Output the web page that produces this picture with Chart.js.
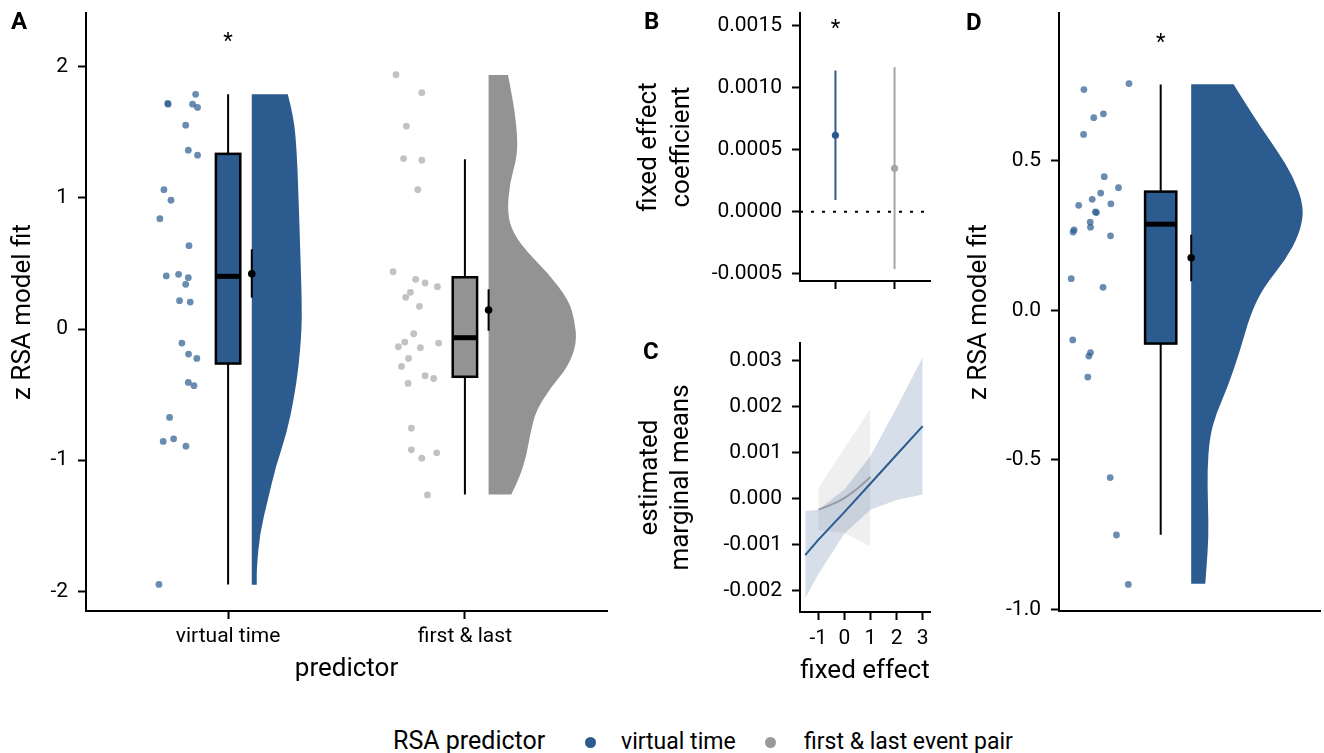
<!doctype html>
<html lang="en">
<head>
<meta charset="utf-8">
<title>RSA model fit – raincloud + mixed model</title>
<script src="https://cdn.jsdelivr.net/npm/chart.js@4.4.1/dist/chart.umd.min.js"></script>
<style>
 body{margin:0;background:#fff;font-family:Roboto,sans-serif}
 #fig{position:relative;width:1324px;height:753px;overflow:hidden;background:#fff}
 #fig canvas{position:absolute}
 .lbl{position:absolute;font-weight:bold;font-size:24px;line-height:24px;color:#000}
 .leg{position:absolute;white-space:nowrap;color:#000}
 .dot{position:absolute;width:11px;height:11px;border-radius:50%}
</style>
</head>
<body>
<div id="fig">
 <canvas id="cA" width="620" height="700" style="left:0;top:0"></canvas>
 <canvas id="cB" width="340" height="300" style="left:620px;top:0"></canvas>
 <canvas id="cC" width="340" height="400" style="left:620px;top:300px"></canvas>
 <canvas id="cD" width="364" height="700" style="left:960px;top:0"></canvas>

 <div class="lbl" style="left:11px;top:9px">A</div>
 <div class="lbl" style="left:644px;top:9px">B</div>
 <div class="lbl" style="left:643px;top:339px">C</div>
 <div class="lbl" style="left:966px;top:10px">D</div>

 <!-- gemeinsame Legende -->
 <div class="leg" style="left:393px;top:728px;font-size:25px;line-height:25px">RSA predictor</div>
 <div class="dot" style="left:585px;top:737px;background:#2b5b8f"></div>
 <div class="leg" style="left:621px;top:730px;font-size:23px;line-height:23px">virtual time</div>
 <div class="dot" style="left:765px;top:737px;background:#999"></div>
 <div class="leg" style="left:804px;top:730px;font-size:23px;line-height:23px">first &amp; last event pair</div>
</div>

<script>
/* ===== Daten ======================================================== */
// Panel A – z RSA model fit je Prädiktor
const aCategories = ['virtual time', 'first & last'];
const aTicks = [-2, -1, 0, 1, 2];
const vtJitter = [0.863,0.747,0.745,0.850,0.871,0.821,0.832,0.871,0.729,0.759,0.712,0.835,0.739,0.791,
                  0.832,0.821,0.795,0.840,0.805,0.833,0.868,0.832,0.856,0.753,0.726,0.770,0.822,0.708];
const vtFit    = [1.79,1.715,1.72,1.715,1.69,1.555,1.364,1.326,1.063,0.982,0.842,0.636,0.405,0.417,
                  0.392,0.341,0.216,0.206,-0.107,-0.191,-0.224,-0.407,-0.432,-0.674,-0.857,-0.837,-0.893,-1.947];
const flJitter = [1.709,1.818,1.753,1.741,1.818,1.801,1.697,1.792,1.832,1.884,1.770,1.750,1.808,1.784,
                  1.746,1.719,1.812,1.889,1.762,1.732,1.832,1.868,1.760,1.774,1.774,1.818,1.881,1.842];
const flFit    = [1.939,1.802,1.547,1.300,1.288,1.063,0.437,0.379,0.351,0.323,0.280,0.242,0.173,-0.036,
                  -0.099,-0.135,-0.142,-0.107,-0.224,-0.285,-0.356,-0.377,-0.415,-0.756,-0.921,-0.985,-0.944,-1.265];
const aWhiskerLow  = [-1.947, -1.262];
const aQ1          = [-0.263, -0.364];
const aMedian      = [0.402, -0.066];
const aQ3          = [1.336, 0.395];
const aWhiskerHigh = [1.79, 1.295];
const aMean        = [0.422, 0.145];
const aMeanLow     = [0.239, -0.013];
const aMeanHigh    = [0.608, 0.303];
// Dichte (halbe Violine), Breite in Kategorie-Einheiten
const vtDensY = [1.79,1.62,1.36,0.98,0.47,0.22,0.0,-0.29,-0.54,-0.79,-1.05,-1.30,-1.56,-1.82,-1.95];
const vtDensW = [0.152,0.177,0.190,0.198,0.207,0.211,0.211,0.198,0.177,0.148,0.101,0.068,0.034,0.021,0.021];
const flDensY = [1.937,1.748,1.496,1.315,1.115,0.885,0.733,0.580,0.427,0.221,0.069,-0.107,-0.288,-0.440,-0.618,-0.794,-0.975,-1.128,-1.262];
const flDensW = [0.082,0.103,0.121,0.121,0.089,0.079,0.103,0.166,0.251,0.338,0.363,0.373,0.335,0.265,0.201,0.176,0.159,0.131,0.096];

// Panel B – fixed effect coefficient
const bTicks = [-0.0005, 0, 0.0005, 0.0010, 0.0015];
const bCoef  = [0.000617, 0.000350];
const bLow   = [0.0000947, -0.000464];
const bHigh  = [0.00114, 0.001168];

// Panel C – estimated marginal means
const cXTicks = [-1, 0, 1, 2, 3];
const cYTicks = [-0.002, -0.001, 0, 0.001, 0.002, 0.003];
const vtX     = [-1.5, -1, 0, 1, 2, 3];
const vtEmm   = [-0.00123, -0.0009, -0.000295, 0.00033, 0.000955, 0.00158];
const vtUpper = [-0.00027, -0.00024, 0.0002, 0.00093, 0.00198, 0.00308];
const vtLower = [-0.00217, -0.00165, -0.00076, -0.00024, -0.00003, 0.00009];
const flX     = [-1, -0.5, 0, 0.5, 1];
const flEmm   = [-0.00024, -0.00013, 0.00001, 0.00022, 0.00047];
const flUpper = [0.00022, 0.00066, 0.0011, 0.00153, 0.00196];
const flLower = [-0.00069, -0.00072, -0.00075, -0.0009, -0.00104];

// Panel D – z RSA model fit (virtual time)
const dTicks = [-1, -0.5, 0, 0.5];
const dJitter = [0.547,0.813,0.605,0.662,0.545,0.667,0.751,0.646,0.596,0.516,0.706,0.621,0.615,0.584,
                 0.586,0.489,0.483,0.704,0.472,0.660,0.481,0.586,0.576,0.570,0.702,0.739,0.809];
const dFit    = [0.738,0.758,0.644,0.657,0.588,0.447,0.410,0.392,0.371,0.351,0.356,0.327,0.329,0.295,
                 0.278,0.269,0.262,0.249,0.106,0.077,-0.099,-0.141,-0.153,-0.223,-0.559,-0.751,-0.916];
const dBox    = [-0.750, -0.111, 0.288, 0.397, 0.755];   // whisker low, q1, median, q3, whisker high
const dMean   = [0.176, 0.097, 0.253];                   // mean, low, high
const dDensY = [0.756,0.646,0.535,0.446,0.345,0.257,0.167,0.078,-0.010,-0.144,-0.257,-0.345,-0.424,-0.535,-0.647,-0.758,-0.870,-0.914];
const dDensW = [0.250,0.370,0.506,0.603,0.667,0.641,0.554,0.428,0.351,0.283,0.215,0.147,0.109,0.095,0.099,0.103,0.089,0.083];

/* ===== Stil ========================================================= */
const BLUE = '#2b5b8f', GREY = '#939393';
const BLUE_PT = 'rgba(43,91,143,0.7)', GREY_PT = 'rgba(153,153,153,0.6)';
Chart.defaults.font.family = "Roboto, 'Noto Sans', sans-serif";
Chart.defaults.color = '#000';
Chart.defaults.animation = false;
Chart.defaults.plugins.legend.display = false;
Chart.defaults.plugins.tooltip.enabled = false;

/* Violine, Box, Fehlerbalken, Sternchen über die Skalen zeichnen --- */
const raincloud = {
  id: 'raincloud',
  beforeDatasetsDraw(chart, args, o) {
    const ctx = chart.ctx, x = chart.scales.x, y = chart.scales.y;
    ctx.save();
    (o.violins || []).forEach(v => {
      const x0 = x.getPixelForValue(v.at);
      const p = v.ys.map((yy, i) => [x.getPixelForValue(v.at + v.ws[i]), y.getPixelForValue(yy)]);
      const n = p.length;
      ctx.beginPath();
      ctx.moveTo(x0, p[0][1]);
      ctx.lineTo(p[0][0], p[0][1]);
      for (let i = 1; i < n - 1; i++) {
        ctx.quadraticCurveTo(p[i][0], p[i][1], (p[i][0] + p[i+1][0]) / 2, (p[i][1] + p[i+1][1]) / 2);
      }
      ctx.lineTo(p[n-1][0], p[n-1][1]);
      ctx.lineTo(x0, p[n-1][1]);
      ctx.closePath();
      ctx.fillStyle = v.color;
      ctx.fill();
    });
    (o.boxes || []).forEach(b => {
      const xc = x.getPixelForValue(b.at);
      const h = x.getPixelForValue(b.at + b.width / 2) - xc;
      const [lo, q1, md, q3, hi] = b.stats.map(v => y.getPixelForValue(v));
      ctx.strokeStyle = '#000';
      ctx.lineWidth = 2;
      ctx.beginPath();
      ctx.moveTo(xc, lo); ctx.lineTo(xc, q1);
      ctx.moveTo(xc, q3); ctx.lineTo(xc, hi);
      ctx.stroke();
      ctx.fillStyle = b.color;
      ctx.fillRect(xc - h, q3, 2 * h, q1 - q3);
      ctx.lineWidth = 2.5;
      ctx.strokeRect(xc - h, q3, 2 * h, q1 - q3);
      ctx.lineWidth = 5;
      ctx.beginPath(); ctx.moveTo(xc - h, md); ctx.lineTo(xc + h, md); ctx.stroke();
    });
    (o.errors || []).forEach(e => {
      const xc = x.getPixelForValue(e.at);
      ctx.strokeStyle = e.color;
      ctx.lineWidth = e.lw || 2;
      ctx.beginPath();
      ctx.moveTo(xc, y.getPixelForValue(e.lo));
      ctx.lineTo(xc, y.getPixelForValue(e.hi));
      ctx.stroke();
    });
    ctx.restore();
  },
  afterDatasetsDraw(chart, args, o) {
    const ctx = chart.ctx, x = chart.scales.x, y = chart.scales.y;
    ctx.save();
    ctx.fillStyle = '#000';
    ctx.font = "22px Roboto";
    ctx.textAlign = 'center';
    ctx.textBaseline = 'alphabetic';
    (o.stars || []).forEach(s => ctx.fillText('*', x.getPixelForValue(s.at), y.getPixelForValue(s.y) + 11));
    ctx.restore();
  }
};

/* Achsen-Helfer ------------------------------------------------------ */
function axis(o) {
  return {
    type: 'linear', min: o.min, max: o.max, bounds: 'data',
    afterBuildTicks: s => { s.ticks = (o.ticks || []).map(v => ({value: v})); },
    afterFit: s => {
      if (o.w != null) s.width = o.w;
      if (o.h != null) s.height = o.h;
      s.paddingTop = s.paddingBottom = s.paddingLeft = s.paddingRight = 0;
    },
    ticks: {display: o.labels !== false, color: '#000', font: {size: o.fs || 21},
            padding: o.pad != null ? o.pad : 10, autoSkip: false, maxRotation: 0, callback: o.fmt},
    grid: {drawOnChartArea: false, drawTicks: o.drawTicks !== false, tickLength: 8,
           tickColor: '#000', tickWidth: 2, color: '#000'},
    border: {display: true, color: '#000', width: 2},
    title: o.title ? {display: true, text: o.title, color: '#000',
                      font: {size: o.tfs || 26, lineHeight: o.tlh || 1.2}, padding: o.tpad}
                   : {display: false}
  };
}
const pts = (xs, ys) => ys.map((v, i) => ({x: xs[i], y: v}));
const base = {responsive: false, devicePixelRatio: 1, events: []};

/* ===== Panel A ====================================================== */
new Chart(document.getElementById('cA'), {
  type: 'scatter',
  data: {datasets: [
    {data: aMean.map((m, i) => ({x: [1.1, 2.1][i], y: m})), pointRadius: 3.8, backgroundColor: '#000', borderWidth: 0},
    {data: pts(vtJitter, vtFit), pointRadius: 3.4, backgroundColor: BLUE_PT, borderWidth: 0},
    {data: pts(flJitter, flFit), pointRadius: 3.4, backgroundColor: GREY_PT, borderWidth: 0}
  ]},
  options: {...base,
    layout: {padding: {left: 0, right: 13, top: 13, bottom: 0}},
    scales: {
      x: axis({min: 0.4, max: 2.6, ticks: [1, 2], h: 89, pad: 5,
               fmt: (v, i) => aCategories[i], title: 'predictor', tfs: 26, tpad: {top: 0, bottom: 15}}),
      y: axis({min: -2.15, max: 2.41, ticks: aTicks, w: 86, fmt: v => String(v),
               title: 'z RSA model fit', tpad: {top: 8, bottom: 0}})
    },
    plugins: {raincloud: {
      violins: [{at: 1.1, ys: vtDensY, ws: vtDensW, color: BLUE},
                {at: 2.1, ys: flDensY, ws: flDensW, color: GREY}],
      boxes: [0, 1].map(i => ({at: i + 1, width: 0.103, color: i ? GREY : BLUE,
               stats: [aWhiskerLow[i], aQ1[i], aMedian[i], aQ3[i], aWhiskerHigh[i]]})),
      errors: [0, 1].map(i => ({at: i + 1.1, lo: aMeanLow[i], hi: aMeanHigh[i], color: '#000', lw: 2})),
      stars: [{at: 1, y: 2.225}]
    }}
  },
  plugins: [raincloud]
});

/* ===== Panel B ====================================================== */
new Chart(document.getElementById('cB'), {
  type: 'scatter',
  data: {datasets: [
    {data: [{x: 1, y: bCoef[0]}], pointRadius: 3.6, backgroundColor: BLUE, borderWidth: 0},
    {data: [{x: 2, y: bCoef[1]}], pointRadius: 3.6, backgroundColor: '#a6a6a6', borderWidth: 0},
    {data: [{x: 0.4, y: 0}, {x: 2.6, y: 0}], showLine: true, pointRadius: 0,
     borderColor: '#000', borderWidth: 2, borderDash: [3, 8]}
  ]},
  options: {...base,
    layout: {padding: {left: 0, right: 30, top: 13, bottom: 0}},
    scales: {
      x: axis({min: 0.4, max: 2.6, ticks: [1, 2], h: 19, labels: false}),
      y: axis({min: -0.00056, max: 0.001605, ticks: bTicks, w: 180, fmt: v => v.toFixed(4),
               title: ['fixed effect', 'coefficient'], tlh: 1.28, tpad: {top: 13, bottom: 0}})
    },
    plugins: {raincloud: {
      errors: [{at: 1, lo: bLow[0], hi: bHigh[0], color: BLUE, lw: 2},
               {at: 2, lo: bLow[1], hi: bHigh[1], color: '#a6a6a6', lw: 2}],
      stars: [{at: 1, y: 0.00152}]
    }}
  },
  plugins: [raincloud]
});

/* ===== Panel C ====================================================== */
new Chart(document.getElementById('cC'), {
  type: 'scatter',
  data: {datasets: [
    {data: pts(vtX, vtEmm), showLine: true, pointRadius: 0, borderColor: BLUE, borderWidth: 2},
    {data: pts(vtX, vtUpper), showLine: true, pointRadius: 0, borderWidth: 0,
     backgroundColor: 'rgba(43,91,143,0.2)', fill: '+1'},
    {data: pts(vtX, vtLower), showLine: true, pointRadius: 0, borderWidth: 0},
    {data: pts(flX, flEmm), showLine: true, pointRadius: 0, borderColor: 'rgba(150,150,150,0.75)',
     borderWidth: 2, tension: 0.4},
    {data: pts(flX, flUpper), showLine: true, pointRadius: 0, borderWidth: 0,
     backgroundColor: 'rgba(210,210,210,0.35)', fill: '+1'},
    {data: pts(flX, flLower), showLine: true, pointRadius: 0, borderWidth: 0}
  ]},
  options: {...base,
    layout: {padding: {left: 0, right: 30, top: 43, bottom: 0}},
    scales: {
      x: axis({min: -1.70, max: 3.28, ticks: cXTicks, h: 88, pad: 6, fmt: v => String(v),
               title: 'fixed effect', tfs: 26, tpad: {top: 0, bottom: 13}}),
      y: axis({min: -0.00247, max: 0.00339, ticks: cYTicks, w: 180, fmt: v => v.toFixed(3),
               title: ['estimated', 'marginal means'], tlh: 1.2, tpad: {top: 15, bottom: 0}})
    }
  }
});

/* ===== Panel D ====================================================== */
new Chart(document.getElementById('cD'), {
  type: 'scatter',
  data: {datasets: [
    {data: [{x: 1.18, y: dMean[0]}], pointRadius: 3.8, backgroundColor: '#000', borderWidth: 0},
    {data: pts(dJitter, dFit), pointRadius: 3.4, backgroundColor: BLUE_PT, borderWidth: 0}
  ]},
  options: {...base,
    layout: {padding: {left: 0, right: 0, top: 13, bottom: 0}},
    scales: {
      x: axis({min: 0.4, max: 1.94, ticks: [], h: 89, labels: false, drawTicks: false}),
      y: axis({min: -1.005, max: 0.994, ticks: dTicks, w: 99, fmt: v => v.toFixed(1),
               title: 'z RSA model fit', tpad: {top: 4, bottom: 0}})
    },
    plugins: {raincloud: {
      violins: [{at: 1.18, ys: dDensY, ws: dDensW, color: BLUE}],
      boxes: [{at: 1, width: 0.184, color: BLUE, stats: dBox}],
      errors: [{at: 1.18, lo: dMean[1], hi: dMean[2], color: '#000', lw: 2}],
      stars: [{at: 1, y: 0.911}]
    }}
  },
  plugins: [raincloud]
});
</script>
</body>
</html>
